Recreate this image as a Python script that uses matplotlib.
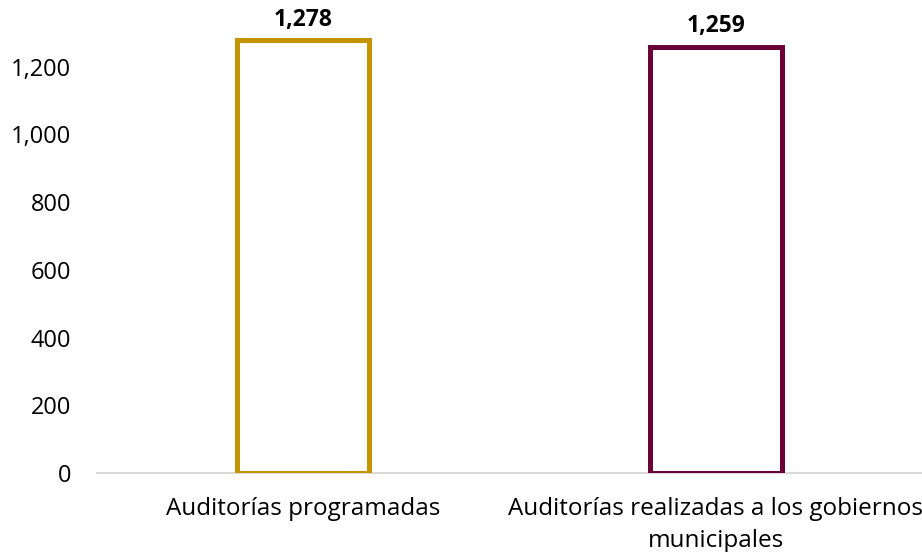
import matplotlib.pyplot as plt
from matplotlib import ticker

categories = ["Auditorías programadas", "Auditorías realizadas a los gobiernos\nmunicipales"]
values = [1278, 1259]
colors = ["#c49400", "#6b0036"]

plt.rcParams['font.family'] = ['Open Sans', 'DejaVu Sans']

fig = plt.figure(figsize=(9.22, 5.52), dpi=100)
ax = fig.add_axes([97 / 922, 79 / 552, 825 / 922, 474 / 552])

ind = list(range(len(categories)))
bars = ax.bar(ind, values, width=0.32, facecolor="white", edgecolor=colors, linewidth=3.6, zorder=3)
ax.bar_label(bars, labels=[f"{v:,}" for v in values], padding=6, fontsize=16.5, fontweight="bold")

ax.set_xlim(-0.5, 1.5)
ax.set_ylim(0, 1400)
ax.set_yticks(range(0, 1201, 200))
ax.yaxis.set_major_formatter(ticker.StrMethodFormatter("{x:,.0f}"))
ax.set_xticks(ind)
ax.set_xticklabels(categories, linespacing=1.45)
ax.tick_params(axis="both", length=0, labelsize=17.5)
ax.tick_params(axis="y", labelsize=17, pad=18.5)
ax.tick_params(axis="x", pad=17)

for s in ["top", "right", "left"]:
    ax.spines[s].set_visible(False)
ax.spines["bottom"].set_color("#d9d9d9")
ax.spines["bottom"].set_linewidth(1.5)

fig.savefig("out.png")
